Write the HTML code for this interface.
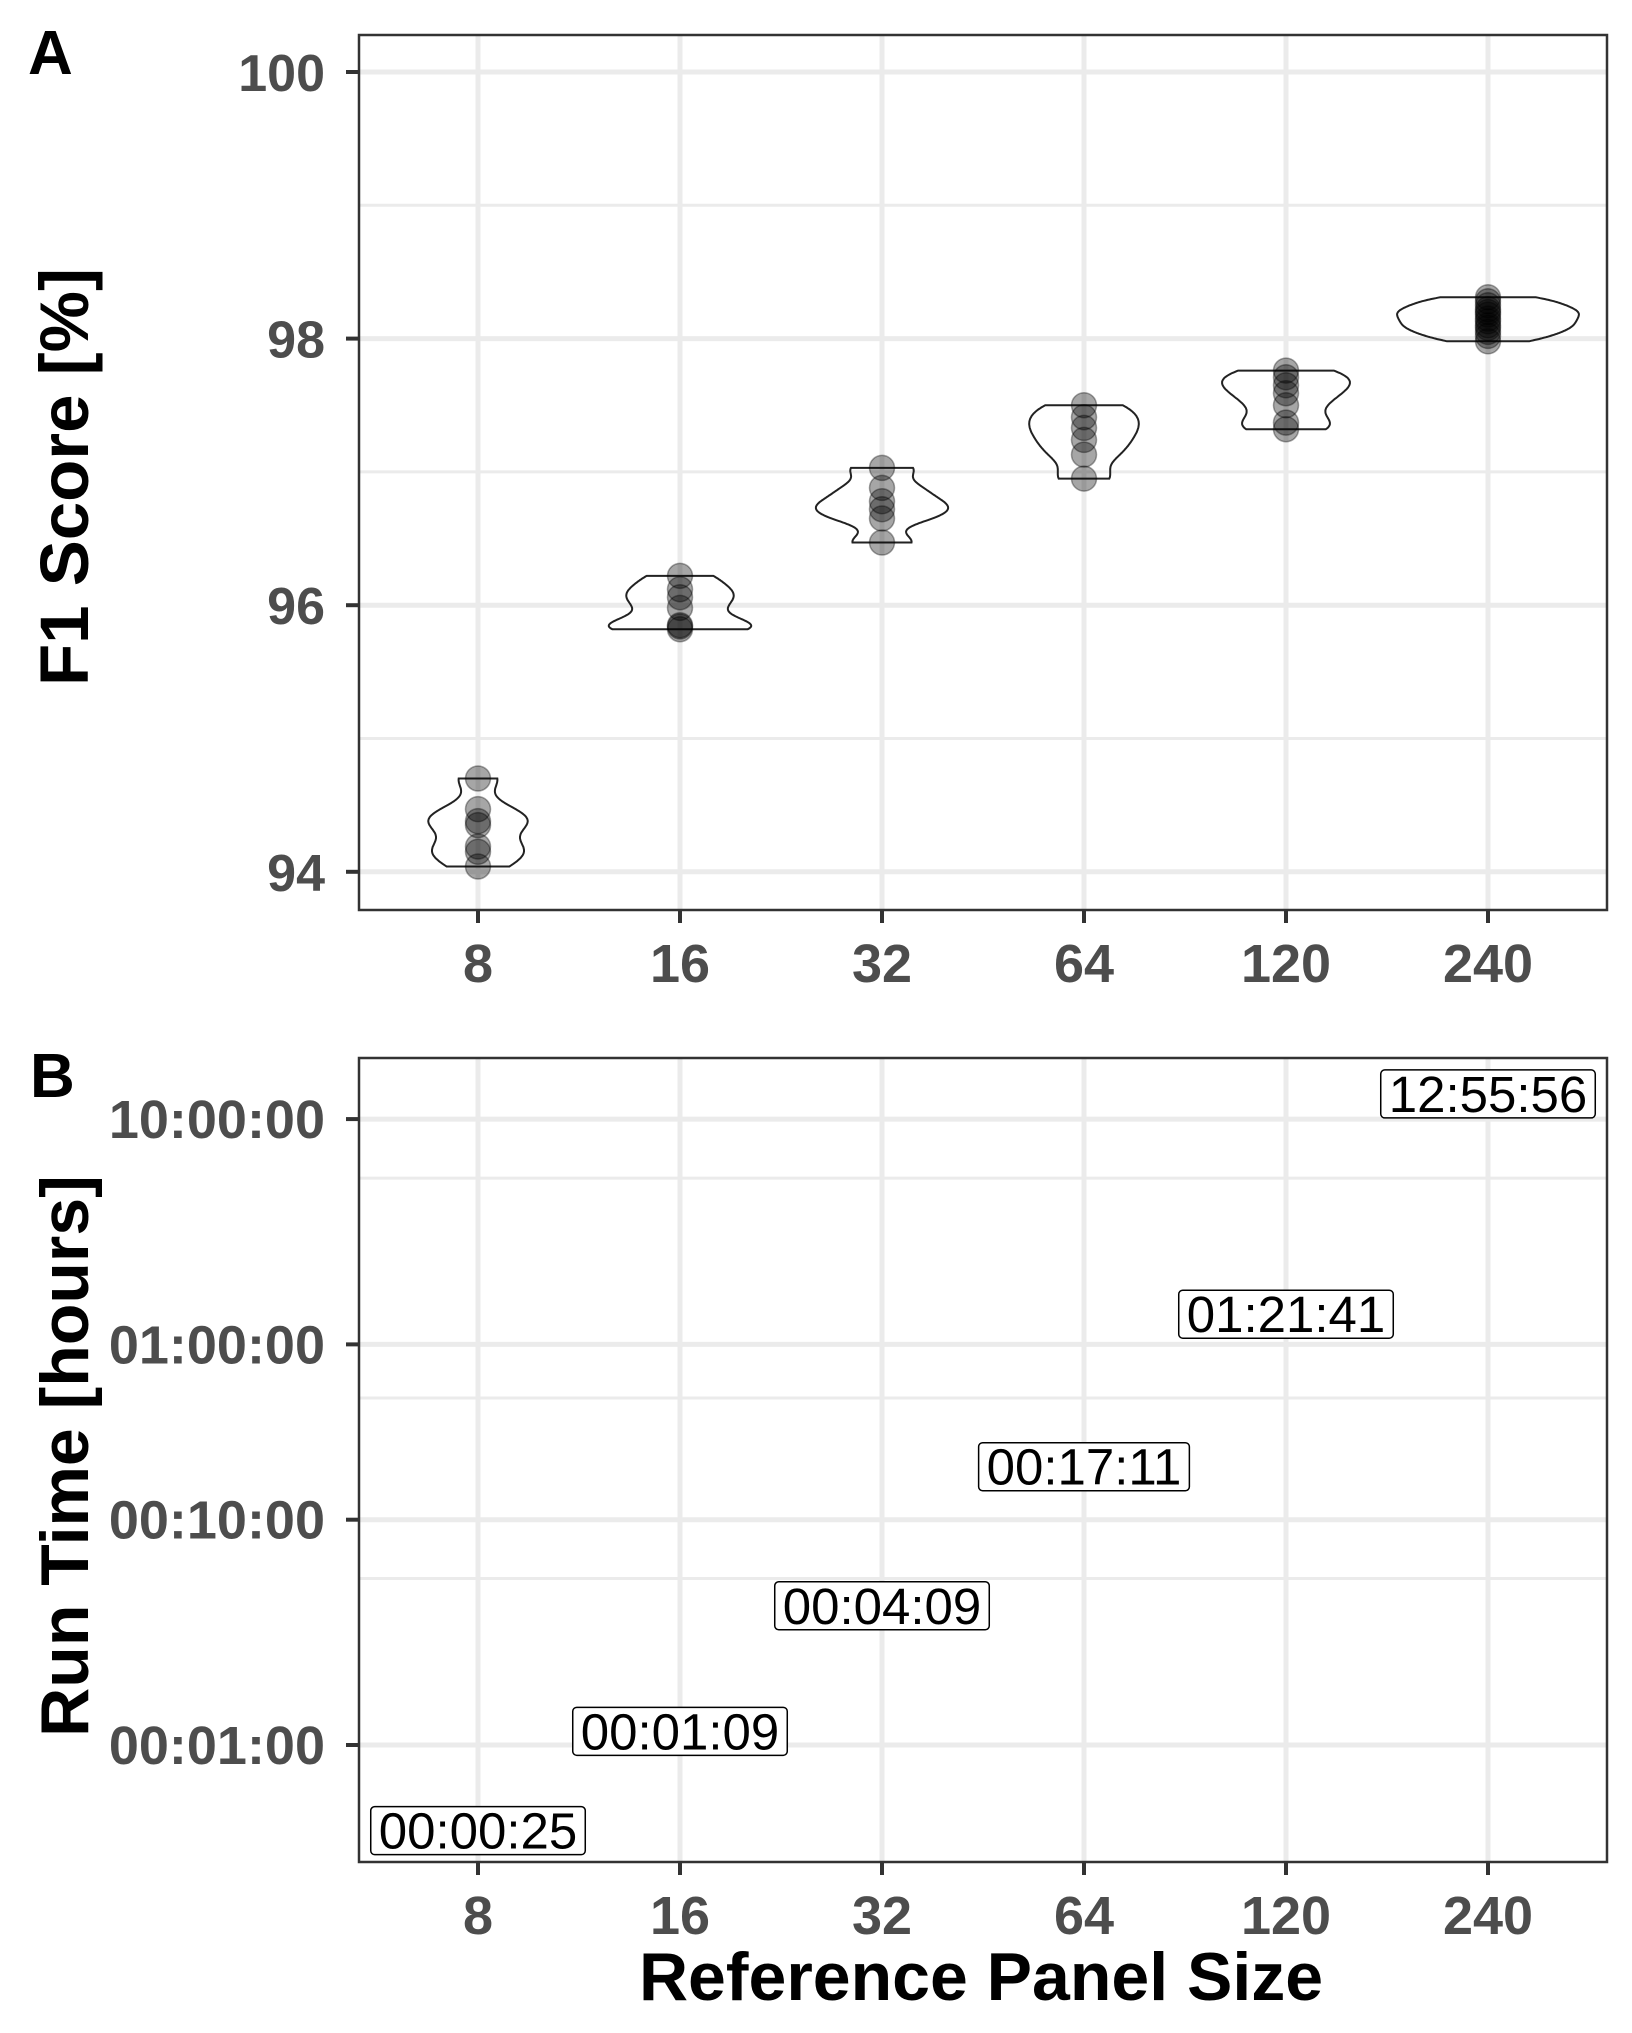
<!DOCTYPE html>
<html><head><meta charset="utf-8"><style>
html,body{margin:0;padding:0;background:#fff}
svg text{font-family:"Liberation Sans",Arial,sans-serif}
</style></head><body>
<svg id="fig" width="1632" height="2028" viewBox="0 0 1632 2028" xmlns="http://www.w3.org/2000/svg">
<rect width="1632" height="2028" fill="#fff"/>
<g id="pa"></g>
<g id="pb"></g>
<text x="28" y="74" font-size="62" font-weight="bold">A</text>
<text x="30" y="1097" font-size="62" font-weight="bold">B</text>
<text transform="translate(88,477) rotate(-90)" text-anchor="middle" font-size="69" font-weight="bold">F1 Score [%]</text>
<text transform="translate(88,1456) rotate(-90)" text-anchor="middle" font-size="68" font-weight="bold">Run Time [hours]</text>
<text x="981" y="2000" text-anchor="middle" font-size="68" font-weight="bold">Reference Panel Size</text>
</svg>
<script>
const categories = ["8","16","32","64","120","240"];
const f1_8 = [94.70,94.47,94.38,94.35,94.19,94.15,94.04];
const f1_16 = [96.22,96.12,96.06,95.98,95.84,95.82,95.85];
const f1_32 = [97.03,96.88,96.78,96.72,96.65,96.47];
const f1_64 = [97.50,97.41,97.33,97.24,97.13,96.95];
const f1_120 = [97.76,97.71,97.65,97.59,97.50,97.37,97.32];
const f1_240 = [98.31,98.28,98.25,98.22,98.20,98.18,98.15,98.13,98.10,98.08,98.05,98.02,97.98];
const f1Ticks = [94,96,98,100];
const f1Minor = [95,97,99];
const runSeconds = [25,69,249,1031,4901,46556];
const runLabels = ["00:00:25","00:01:09","00:04:09","00:17:11","01:21:41","12:55:56"];
const timeTicks = [60,600,3600,36000];
const timeTickLabels = ["00:01:00","00:10:00","01:00:00","10:00:00"];
const timeMinor = [329,2080,19680];

const NS="http://www.w3.org/2000/svg";
function mk(parent,tag,attrs){const e=document.createElementNS(NS,tag);for(const k in attrs)e.setAttribute(k,attrs[k]);parent.appendChild(e);return e;}
const L=359,R=1607;
const xPos=i=>478+202*i;
// Panel A
const aTop=35,aBot=910;
const yA=v=>72+(100-v)*133.3;
const pa=document.getElementById('pa');
f1Minor.forEach(v=>{const e=mk(pa,'line',{x1:L,x2:R,y1:yA(v),y2:yA(v),stroke:'#ebebeb','stroke-width':3});

});
f1Ticks.forEach(v=>{const e=mk(pa,'line',{x1:L,x2:R,y1:yA(v),y2:yA(v),stroke:'#ebebeb','stroke-width':5});

});
categories.forEach((c,i)=>{const e=mk(pa,'line',{x1:xPos(i),x2:xPos(i),y1:aTop,y2:aBot,stroke:'#ebebeb','stroke-width':5});

});
// violins
const groups=[f1_8,f1_16,f1_32,f1_64,f1_120,f1_240];
function bw(d){const n=d.length,m=d.reduce((a,b)=>a+b)/n;const sd=Math.sqrt(d.reduce((a,b)=>a+(b-m)**2,0)/(n-1));
const s=[...d].sort((a,b)=>a-b);const q=p=>{const h=(n-1)*p,lo=Math.floor(h);return s[lo]+(h-lo)*((s[Math.min(lo+1,n-1)]||s[lo])-s[lo]);};
const iqr=(q(0.75)-q(0.25))/1.34;let lo=Math.min(sd,iqr);if(!(lo>0))lo=sd;return 0.75*0.9*lo*Math.pow(n,-0.2);}
const dens=groups.map(d=>{const h=bw(d),mn=Math.min(...d),mx=Math.max(...d);const pts=[];
for(let k=0;k<=100;k++){const y=mn+(mx-mn)*k/100;let s=0;d.forEach(v=>{s+=Math.exp(-0.5*((y-v)/h)**2);});pts.push([y,s/(d.length*h*Math.sqrt(2*Math.PI))]);}return pts;});
const gmax=Math.max(...dens.map(p=>Math.max(...p.map(q=>q[1]))));
dens.forEach((pts,i)=>{const cx=xPos(i);let dstr='';
pts.forEach((p,k)=>{dstr+=(k?'L':'M')+(cx+p[1]/gmax*90.9).toFixed(1)+','+yA(p[0]).toFixed(1);});
for(let k=pts.length-1;k>=0;k--){dstr+='L'+(cx-pts[k][1]/gmax*90.9).toFixed(1)+','+yA(pts[k][0]).toFixed(1);}
dstr+='Z';const e=mk(pa,'path',{d:dstr,fill:'none',stroke:'#222','stroke-width':2});

});
groups.forEach((d,i)=>d.forEach(v=>{const e=mk(pa,'circle',{cx:xPos(i),cy:yA(v),r:12.5,fill:'rgba(0,0,0,0.35)',stroke:'rgba(0,0,0,0.35)','stroke-width':1.5});

}));
mk(pa,'rect',{x:L,y:aTop,width:R-L,height:aBot-aTop,fill:'none',stroke:'#333','stroke-width':2.5});
f1Ticks.forEach(v=>{mk(pa,'line',{x1:L-13,x2:L,y1:yA(v),y2:yA(v),stroke:'#333','stroke-width':4});
const t=mk(pa,'text',{x:325,y:yA(v)+19,'text-anchor':'end','font-size':52,'font-weight':'bold',fill:'#4d4d4d'});t.textContent=v;

});
categories.forEach((c,i)=>{mk(pa,'line',{x1:xPos(i),x2:xPos(i),y1:aBot,y2:aBot+13,stroke:'#333','stroke-width':4});
const t=mk(pa,'text',{x:xPos(i),y:982,'text-anchor':'middle','font-size':54,'font-weight':'bold',fill:'#4d4d4d'});t.textContent=c;

});
// Panel B
const bTop=1058,bBot=1862;
const yB=s=>1745-225.3*(Math.log10(s)-Math.log10(60));
const pb=document.getElementById('pb');
timeMinor.forEach(v=>{const e=mk(pb,'line',{x1:L,x2:R,y1:yB(v),y2:yB(v),stroke:'#ebebeb','stroke-width':3});

});
timeTicks.forEach(v=>{const e=mk(pb,'line',{x1:L,x2:R,y1:yB(v),y2:yB(v),stroke:'#ebebeb','stroke-width':5});

});
categories.forEach((c,i)=>{const e=mk(pb,'line',{x1:xPos(i),x2:xPos(i),y1:bTop,y2:bBot,stroke:'#ebebeb','stroke-width':5});

});
runSeconds.forEach((s,i)=>{const g=mk(pb,'g',{});


const r=mk(g,'rect',{rx:4,ry:4,fill:'#fff',stroke:'#000','stroke-width':1.5});
const t=mk(g,'text',{x:xPos(i),y:yB(s)+18,'text-anchor':'middle','font-size':51,fill:'#000'});t.textContent=runLabels[i];
const bb=t.getBBox();r.setAttribute('x',xPos(i)-bb.width/2-8);r.setAttribute('width',bb.width+16);
r.setAttribute('y',yB(s)-24);r.setAttribute('height',48);});
mk(pb,'rect',{x:L,y:bTop,width:R-L,height:bBot-bTop,fill:'none',stroke:'#333','stroke-width':2.5});
timeTicks.forEach((v,k)=>{mk(pb,'line',{x1:L-13,x2:L,y1:yB(v),y2:yB(v),stroke:'#333','stroke-width':4});
const t=mk(pb,'text',{x:325,y:yB(v)+19,'text-anchor':'end','font-size':54,'font-weight':'bold',fill:'#4d4d4d'});t.textContent=timeTickLabels[k];

});
categories.forEach((c,i)=>{mk(pb,'line',{x1:xPos(i),x2:xPos(i),y1:bBot,y2:bBot+13,stroke:'#333','stroke-width':4});
const t=mk(pb,'text',{x:xPos(i),y:1934,'text-anchor':'middle','font-size':54,'font-weight':'bold',fill:'#4d4d4d'});t.textContent=c;

});
</script>
</body></html>
